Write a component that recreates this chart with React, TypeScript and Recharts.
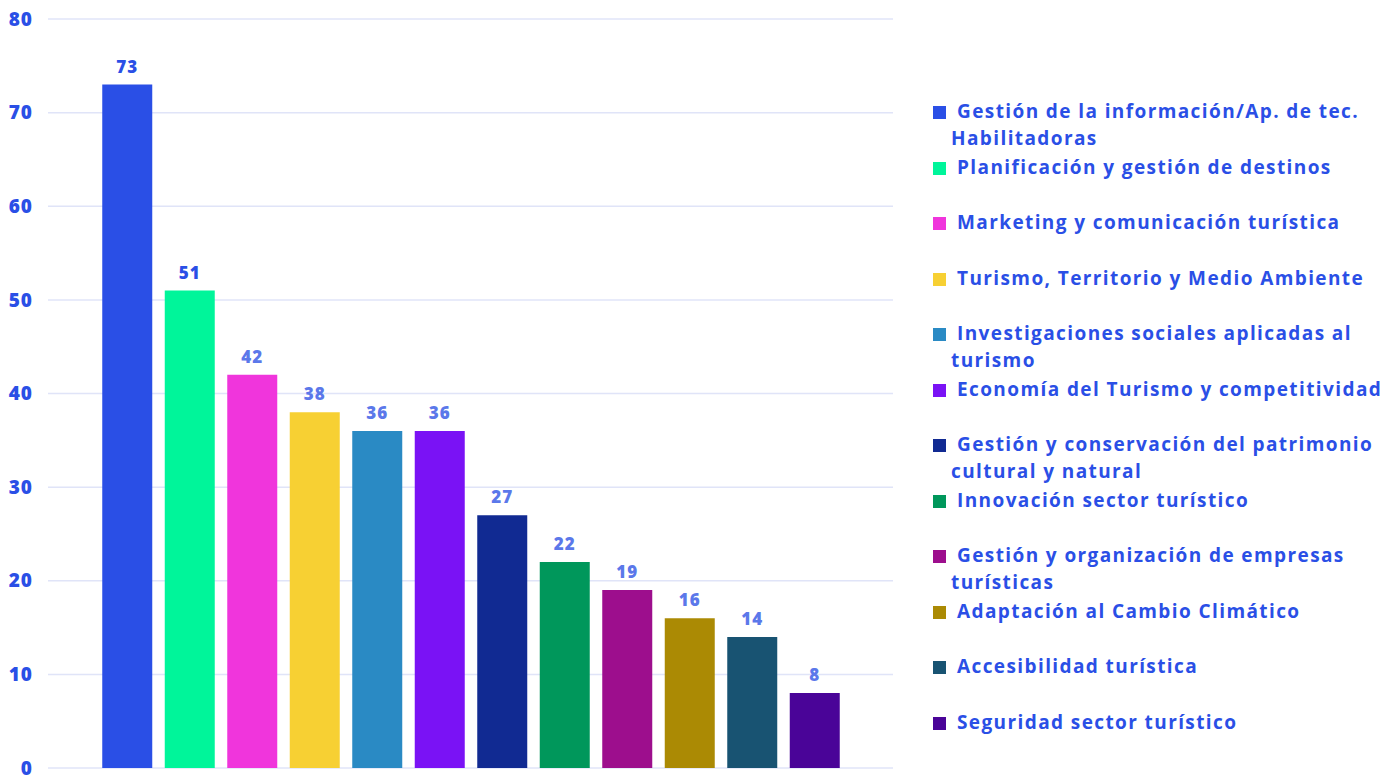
import React from "react"
import { BarChart, Bar, XAxis, YAxis, CartesianGrid, Cell, LabelList } from "recharts"

const categories = [
  "Gestión de la información/Ap. de tec. Habilitadoras",
  "Planificación y gestión de destinos",
  "Marketing y comunicación turística",
  "Turismo, Territorio y Medio Ambiente",
  "Investigaciones sociales aplicadas al turismo",
  "Economía del Turismo y competitividad",
  "Gestión y conservación del patrimonio cultural y natural",
  "Innovación sector turístico",
  "Gestión y organización de empresas turísticas",
  "Adaptación al Cambio Climático",
  "Accesibilidad turística",
  "Seguridad sector turístico",
]

const values = [73, 51, 42, 38, 36, 36, 27, 22, 19, 16, 14, 8]

const yTicks = [0, 10, 20, 30, 40, 50, 60, 70, 80]

const barColors = [
  "#2a4fe6",
  "#00f59a",
  "#f035dc",
  "#f7d033",
  "#2a8ac4",
  "#7a12f5",
  "#112a92",
  "#00975b",
  "#9d0e8d",
  "#ab8a04",
  "#185372",
  "#4a0498",
]

const labelColors = [
  "#2a4fe6", "#2a4fe6", "#5b78ea", "#5b78ea", "#5b78ea", "#5b78ea",
  "#5b78ea", "#5b78ea", "#5b78ea", "#5b78ea", "#5b78ea", "#5b78ea",
]

const data = categories.map((name, i) => ({ name, value: values[i] }))

const FONT = "'Open Sans', 'Noto Sans', sans-serif"
const TEXT_BLUE = "#2a4fe6"

function BarLabel(props: any) {
  const { x, y, width, value, index } = props
  return (
    <text
      x={x + width / 2}
      y={y - 12}
      textAnchor="middle"
      fill={labelColors[index]}
      fontSize={17}
      fontWeight={800}
      letterSpacing={1}
      fontFamily={FONT}
    >
      {value}
    </text>
  )
}

function Legend() {
  return (
    <div style={{ position: "absolute", left: 933, top: 98, fontFamily: FONT }}>
      {categories.map((name, i) => (
        <div key={name} style={{ position: "relative", height: 55.5 }}>
          <div
            style={{
              position: "absolute",
              left: 0,
              top: 8,
              width: 13,
              height: 13,
              background: barColors[i],
            }}
          />
          <div
            style={{
              position: "absolute",
              left: 18,
              top: 0,
              width: 440,
              textIndent: 6,
              fontSize: 19,
              fontWeight: 700,
              letterSpacing: 1.4,
              lineHeight: "27px",
              color: TEXT_BLUE,
            }}
          >
            {name}
          </div>
        </div>
      ))}
    </div>
  )
}

export default function App() {
  return (
    <div style={{ position: "absolute", left: 0, top: 0, width: 1398, height: 776, background: "#fff" }}>
      <BarChart
        width={900}
        height={776}
        data={data}
        margin={{ top: 19, right: 7, bottom: 8, left: 0 }}
        barCategoryGap="10%"
      >
        <CartesianGrid vertical={false} stroke="#e0e4f8" strokeWidth={1.5} />
        <XAxis dataKey="name" hide padding={{ left: 48, right: 47 }} />
        <YAxis
          width={48}
          domain={[0, 80]}
          ticks={yTicks}
          interval={0}
          axisLine={false}
          tickLine={false}
          tickMargin={9}
          tick={{ fill: TEXT_BLUE, fontSize: 19, fontWeight: 800, letterSpacing: 1, fontFamily: FONT }}
        />
        <Bar dataKey="value" isAnimationActive={false}>
          {data.map((d, i) => (
            <Cell key={d.name} fill={barColors[i]} />
          ))}
          <LabelList dataKey="value" content={BarLabel} />
        </Bar>
      </BarChart>
      <Legend />
    </div>
  )
}
